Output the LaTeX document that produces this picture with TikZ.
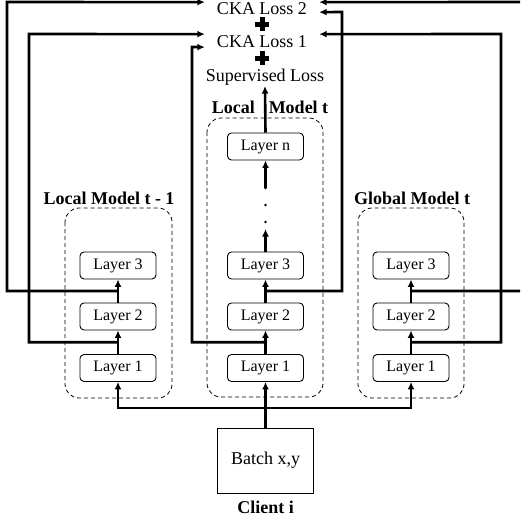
\documentclass[tikz,border=0pt]{standalone}
\usepackage{fontspec}
\setmainfont{Liberation Serif}
\usetikzlibrary{arrows.meta,calc}

\tikzset{
  layer/.style={draw, line width=0.9pt, rounded corners=4pt, minimum width=76pt, minimum height=27pt, inner sep=0pt, font=\fontsize{16}{19}\selectfont},
  loss/.style={inner xsep=12pt, inner ysep=1pt, anchor=base, font=\fontsize{18}{21}\selectfont},
  title/.style={anchor=base, font=\fontsize{18}{21}\selectfont\bfseries},
  modelbox/.style={draw, dash pattern=on 4pt off 3pt, line width=0.8pt, rounded corners=14pt},
  arr/.style={-{Latex[length=7.5pt,width=7pt]}, line width=2.6pt},
}

\begin{document}
\begin{tikzpicture}[x=1pt,y=-1pt]
\clip (0,0) rectangle (520,522);
% losses on top
\node[loss] (loss2) at (262,14) {CKA Loss 2};
\node[loss] (loss1) at (262,47) {CKA Loss 1};
\node[loss] (sup) at (265,81) {Supervised Loss};
\foreach \p in {24,58}{
  \fill (255,\p-2.5) rectangle (269,\p+2.5);
  \fill (259.5,\p-7) rectangle (264.5,\p+7);
}

% the three models
\draw[modelbox] (65,208) rectangle (172,398);
\draw[modelbox] (207,118) rectangle (323,397);
\draw[modelbox] (358,208) rectangle (464,398);
\node[title] (ta) at (109,204) {Local Model t - 1};
\node[title] (tm) at (270,113) {Local\hspace{14pt}Model t};
\node[title] (tg) at (412,204) {Global Model t};

\node[layer] (a1) at (118,368) {Layer 1};
\node[layer] (a2) at (118,316.5) {Layer 2};
\node[layer] (a3) at (118,265.5) {Layer 3};
\node[layer] (m1) at (265.5,368) {Layer 1};
\node[layer] (m2) at (265.5,316.5) {Layer 2};
\node[layer] (m3) at (265.5,265.5) {Layer 3};
\node[layer] (mn) at (265.5,146.5) {Layer n};
\node[layer] (g1) at (411,368) {Layer 1};
\node[layer] (g2) at (411,316.5) {Layer 2};
\node[layer] (g3) at (411,265.5) {Layer 3};

% client
\node[draw, line width=0.9pt, minimum width=96pt, minimum height=65pt, font=\fontsize{18}{21}\selectfont] (batch) at (265.5,460.5) {Batch x,y};
\node[title] (client) at (265.5,513) {Client i};

% batch to the models
\coordinate (split) at (265.5,408);
\draw[arr] (batch.north) -- (m1.south);
\draw[arr] (split) -| (a1.south);
\draw[arr] (split) -| (g1.south);

\foreach \col in {a,m,g}{
  \draw[arr] (\col1.north) -- (\col2.south);
  \draw[arr] (\col2.north) -- (\col3.south);
  \coordinate (\col12) at ($(\col1.north)!0.5!(\col2.south)$);
  \coordinate (\col23) at ($(\col2.north)!0.5!(\col3.south)$);
}

% dots up to layer n
\coordinate (dtop) at (265.5,188);
\draw[arr] (m3.north) -- (265.5,229);
\foreach \y in {188,205,222} \fill (265.5,\y) circle (1.3pt);
\draw[arr] (dtop) -- (mn.south);
\draw[arr] (mn.north) -- (sup.south);

% features to the CKA losses
\draw[arr] (a23) -| (7,2) -- ([yshift=6pt]loss2.west);
\draw[arr] (a12) -| (29,34) -- ([yshift=7pt]loss1.west);
\draw[arr] (m12) -| (192,47) -- ([yshift=-6pt]loss1.west);
\draw[arr] (m23) -| (342,12) -- ([yshift=-4pt]loss2.east);
\draw[arr] (g23) -| (530,2) -- ([yshift=6pt]loss2.east);
\draw[arr] (g12) -| (501,34) -- ([yshift=7pt]loss1.east);
\end{tikzpicture}
\end{document}
